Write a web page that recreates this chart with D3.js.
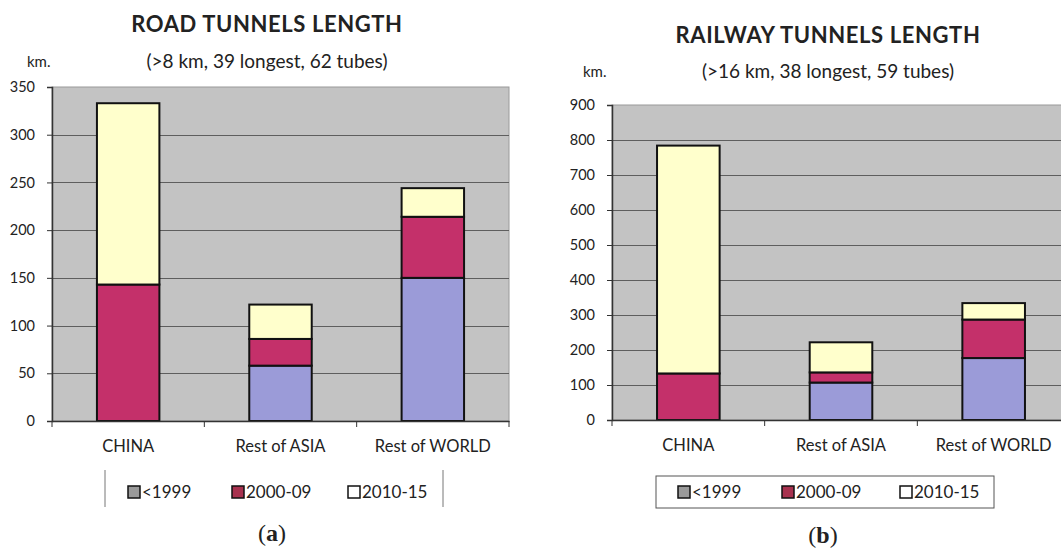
<!DOCTYPE html>
<html>
<head>
<meta charset="utf-8">
<script src="https://cdn.jsdelivr.net/npm/d3@7"></script>
<style>
  html, body { margin: 0; padding: 0; background: #fff; }
  svg { display: block; }
  text { font-family: Lato, "Open Sans", sans-serif; fill: #222; }
</style>
</head>
<body>
<svg id="chart" width="1061" height="549"></svg>
<script>
// ---- data ----
const categories = ["CHINA", "Rest of ASIA", "Rest of WORLD"];
const periods = ["<1999", "2000-09", "2010-15"];
const roadBefore1999 = [0, 58, 150];
const road2000to09 = [143, 28, 64];
const road2010to15 = [190, 36, 30];
const roadTicks = [0, 50, 100, 150, 200, 250, 300, 350];
const railBefore1999 = [0, 107, 177];
const rail2000to09 = [133, 29, 110];
const rail2010to15 = [651, 86, 47];
const railTicks = [0, 100, 200, 300, 400, 500, 600, 700, 800, 900];

const barColors = ["#9b9bd8", "#c4306a", "#ffffcc"];
const legendColors = ["#9a9a9a", "#a8324f", "#ffffff"];

const svg = d3.select("#chart");

function drawChart(opt) {
  const g = svg.append("g");
  const rows = categories.map((c, i) => {
    const r = { cat: c };
    periods.forEach((p, k) => r[p] = opt.series[k][i]);
    return r;
  });
  const stack = d3.stack().keys(periods)(rows);

  const x = d3.scaleBand().domain(categories).range([opt.left, opt.right]).paddingInner(0).paddingOuter(0);
  const y = d3.scaleLinear().domain([0, opt.max]).range([opt.bottom, opt.top]);
  const bw = x.bandwidth() * 0.41;

  // plot background
  g.append("rect").attr("x", opt.left).attr("y", opt.top)
    .attr("width", opt.right - opt.left).attr("height", opt.bottom - opt.top)
    .attr("fill", "#c3c3c3").attr("stroke", "#9a9a9a").attr("stroke-width", 1);

  // grid
  g.selectAll(".grid").data(opt.ticks.filter(t => t > 0 && t < opt.max)).join("line")
    .attr("x1", opt.left).attr("x2", opt.right)
    .attr("y1", d => Math.round(y(d)) + 0.5).attr("y2", d => Math.round(y(d)) + 0.5)
    .attr("stroke", "#5e5e5e").attr("stroke-width", 1);

  // bars
  stack.forEach((layer, k) => {
    g.selectAll(null).data(layer.filter(d => d[1] - d[0] > 0)).join("rect")
      .attr("x", d => x(d.data.cat) + (x.bandwidth() - bw) / 2)
      .attr("y", d => y(d[1]))
      .attr("width", bw)
      .attr("height", d => y(d[0]) - y(d[1]))
      .attr("fill", barColors[k])
      .attr("stroke", "#111").attr("stroke-width", 2);
  });

  // y axis
  const ya = g.append("g").attr("transform", `translate(${opt.left},0)`)
    .call(d3.axisLeft(y).tickValues(opt.ticks).tickSize(5).tickPadding(12).tickFormat(d3.format("d")));
  ya.select(".domain").attr("stroke", "#333").attr("stroke-width", 1.5);
  ya.selectAll(".tick line").attr("stroke", "#333");
  ya.selectAll(".tick text").attr("font-size", 14.5).attr("fill", "#222")
    .style("font-family", "Lato, sans-serif");

  // x axis
  const xa = g.append("g").attr("transform", `translate(0,${opt.bottom})`)
    .call(d3.axisBottom(x).tickSize(0).tickPadding(19));
  xa.select(".domain").attr("stroke", "#333").attr("stroke-width", 1.5);
  xa.selectAll(".tick text").attr("font-size", 16.5).attr("fill", "#222")
    .style("font-family", "Lato, sans-serif");
  // category separator ticks
  const seps = categories.map(c => x(c)).concat([opt.right]);
  g.selectAll(null).data(seps).join("line")
    .attr("x1", d => d).attr("x2", d => d)
    .attr("y1", opt.bottom).attr("y2", opt.bottom + 6)
    .attr("stroke", "#333").attr("stroke-width", 1);

  // titles
  g.append("text").attr("x", opt.titleX).attr("y", opt.titleY).attr("text-anchor", "middle")
    .attr("font-size", 22).attr("font-weight", "bold").attr("letter-spacing", 0.6)
    .attr("fill", "#111").text(opt.title);
  g.append("text").attr("x", opt.titleX).attr("y", opt.subY).attr("text-anchor", "middle")
    .attr("font-size", 19).attr("fill", "#222").text(opt.subtitle);
  g.append("text").attr("x", opt.kmX).attr("y", opt.subY - 1).attr("font-size", 15)
    .attr("fill", "#333").text("km.");

  // legend
  const lg = g.append("g");
  if (opt.legendBox) {
    lg.append("rect").attr("x", opt.legend.x0).attr("y", opt.legend.y0)
      .attr("width", opt.legend.x1 - opt.legend.x0).attr("height", opt.legend.y1 - opt.legend.y0)
      .attr("fill", "#fff").attr("stroke", "#555").attr("stroke-width", 1);
  } else {
    [opt.legend.x0, opt.legend.x1].forEach(xx => {
      lg.append("line").attr("x1", xx).attr("x2", xx)
        .attr("y1", opt.legend.y0).attr("y2", opt.legend.y1)
        .attr("stroke", "#777").attr("stroke-width", 1);
    });
  }
  periods.forEach((p, k) => {
    const sx = opt.legend.items[k];
    lg.append("rect").attr("x", sx).attr("y", opt.legend.cy - 6)
      .attr("width", 12).attr("height", 12)
      .attr("fill", legendColors[k]).attr("stroke", "#111").attr("stroke-width", 1.5);
    lg.append("text").attr("x", sx + 14).attr("y", opt.legend.cy + 6)
      .attr("font-size", 17).attr("fill", "#222").text(p);
  });

  // caption
  const cap = g.append("text").attr("x", opt.capX).attr("y", opt.capY).attr("text-anchor", "middle")
    .attr("font-size", 24).style("font-family", "'Liberation Serif', 'DejaVu Serif', serif").attr("fill", "#000");
  cap.append("tspan").text("(");
  cap.append("tspan").attr("font-weight", "bold").text(opt.caption);
  cap.append("tspan").text(")");
}

drawChart({
  series: [roadBefore1999, road2000to09, road2010to15],
  ticks: roadTicks, max: 350,
  left: 52, right: 509, top: 87, bottom: 421,
  title: "ROAD TUNNELS LENGTH", subtitle: "(>8 km, 39 longest, 62 tubes)",
  titleX: 267, titleY: 32, subY: 68, kmX: 27,
  legendBox: false,
  legend: { x0: 105, x1: 443, y0: 470, y1: 507, cy: 492, items: [128, 232, 348] },
  caption: "a", capX: 272, capY: 541
});

drawChart({
  series: [railBefore1999, rail2000to09, rail2010to15],
  ticks: railTicks, max: 900,
  left: 612, right: 1070, top: 105, bottom: 420,
  title: "RAILWAY TUNNELS LENGTH", subtitle: "(>16 km, 38 longest, 59 tubes)",
  titleX: 828, titleY: 43, subY: 78, kmX: 583,
  legendBox: true,
  legend: { x0: 656, x1: 994, y0: 476, y1: 508, cy: 492, items: [678, 782, 900] },
  caption: "b", capX: 823, capY: 543
});
</script>
</body>
</html>
